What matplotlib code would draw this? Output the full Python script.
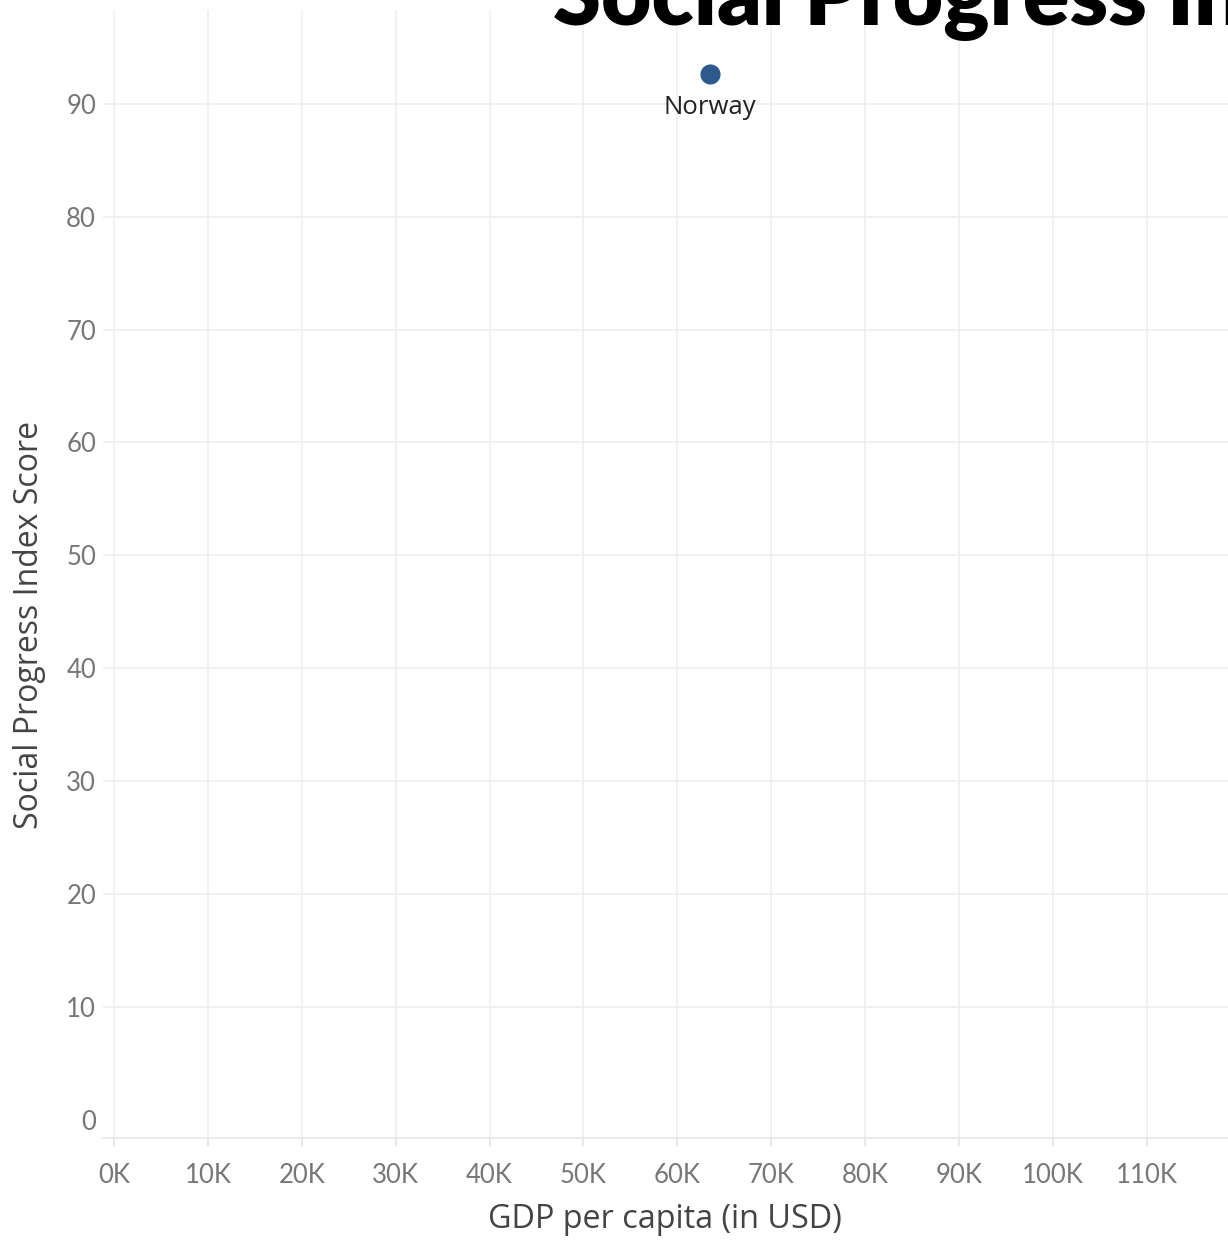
import matplotlib
matplotlib.use("Agg")
import matplotlib.pyplot as plt
from matplotlib.ticker import FuncFormatter

# =========================
# DATA
# =========================

countries = ["Norway"]
gdp_per_capita = [63500]
spi_score = [92.6]

x_ticks = [0, 10000, 20000, 30000, 40000, 50000, 60000, 70000, 80000, 90000, 100000, 110000]
y_ticks = [0, 10, 20, 30, 40, 50, 60, 70, 80, 90]

# =========================
# PLOT
# =========================

plt.rcParams["font.family"] = ["Lato", "DejaVu Sans"]

fig = plt.figure(figsize=(12.28, 12.4), dpi=100)
ax = fig.add_axes([103 / 1228, (1240 - 1138) / 1240, (1228 - 103) / 1228, (1138 - 10) / 1240])

ax.scatter(gdp_per_capita, spi_score, s=210, color="#2c5a8c", zorder=3, linewidths=0)

for name, gx, gy in zip(countries, gdp_per_capita, spi_score):
    ax.annotate(name, (gx, gy), xytext=(0, -24), textcoords="offset points",
                ha="center", va="center", fontsize=18.5, color="#222222",
                family=["Open Sans", "DejaVu Sans"])

ax.set_xlim(-1170, 118640)
ax.set_ylim(-1.6, 98.3)

ax.set_xticks(x_ticks)
ax.xaxis.set_major_formatter(FuncFormatter(lambda v, p: f"{int(v / 1000)}K"))
ax.set_yticks(y_ticks)

for v in x_ticks:
    ax.axvline(v, color="#efefef", lw=1.2, zorder=0)
for v in y_ticks[1:]:
    ax.axhline(v, color="#efefef", lw=1.2, zorder=0)

for s in ["top", "right", "left"]:
    ax.spines[s].set_visible(False)
ax.spines["bottom"].set_color("#e8e8e8")
ax.spines["bottom"].set_linewidth(1.2)

ax.tick_params(axis="x", colors="#e3e3e3", length=6, width=1.2, pad=12,
               labelcolor="#777777", labelsize=18.5)
ax.tick_params(axis="y", length=0, pad=5, labelcolor="#777777", labelsize=18.5)

fig.text(665 / 1228, 1 - 1220 / 1240, "GDP per capita (in USD)", ha="center", va="center",
         fontsize=23.3, color="#444444", family=["Open Sans", "DejaVu Sans"])
fig.text(30 / 1228, 1 - 625 / 1240, "Social Progress Index Score", ha="center", va="center",
         rotation=90, fontsize=23, color="#444444", family=["Open Sans", "DejaVu Sans"])

fig.text(553 / 1228, 1 - 25 / 1240, "Social Progress Index vs GDP per capita", ha="left",
         va="baseline", fontsize=62.5, fontweight="heavy", color="#000000")

fig.savefig("out.png", dpi=100)
